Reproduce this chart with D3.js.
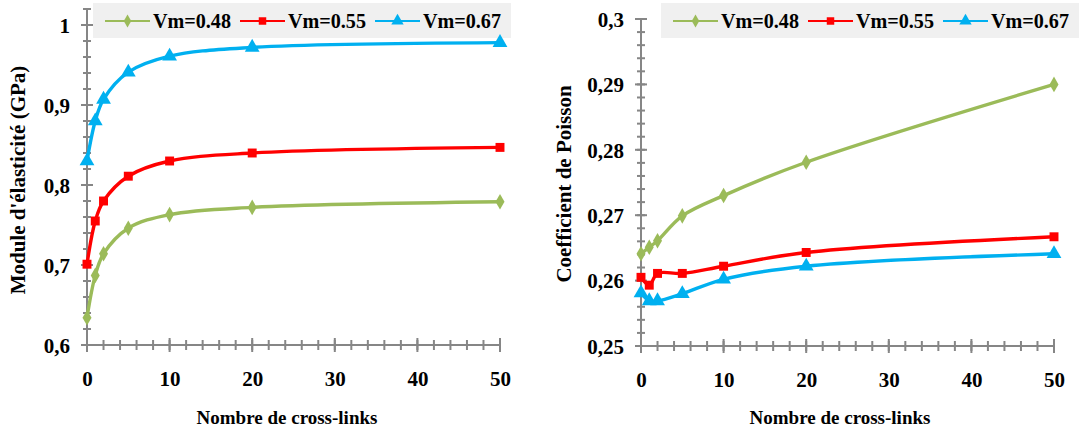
<!DOCTYPE html>
<html><head><meta charset="utf-8">
<script src="https://cdn.jsdelivr.net/npm/d3@7"></script>
<style>
html,body{margin:0;padding:0;background:#fff;}
svg{display:block;}
text{font-family:"Liberation Serif","Times New Roman",serif;font-weight:bold;fill:#000;}
</style></head>
<body>
<svg id="c" width="1079" height="430"></svg>
<script>
// ---- data ----
const crossLinks = [0, 1, 2, 5, 10, 20, 50];
const seriesNames = ["Vm=0.48", "Vm=0.55", "Vm=0.67"];
const modulusGreen = [0.634, 0.687, 0.714, 0.746, 0.763, 0.772, 0.779];
const modulusRed   = [0.701, 0.755, 0.780, 0.811, 0.830, 0.840, 0.847];
const modulusBlue  = [0.830, 0.880, 0.907, 0.941, 0.961, 0.972, 0.978];
const poissonGreen = [0.2641, 0.2651, 0.2661, 0.2699, 0.2730, 0.2781, 0.2900];
const poissonRed   = [0.2605, 0.2593, 0.2611, 0.2611, 0.2622, 0.2643, 0.2667];
const poissonBlue  = [0.2581, 0.2569, 0.2569, 0.2580, 0.2602, 0.2622, 0.2641];
const xTicks = [0, 10, 20, 30, 40, 50];
const modulusTicks = [0.6, 0.7, 0.8, 0.9, 1.0];
const poissonTicks = [0.25, 0.26, 0.27, 0.28, 0.29, 0.3];
const xTitle = "Nombre de cross-links";
const modulusTitle = "Module d'élasticité (GPa)";
const poissonTitle = "Coefficient de Poisson";

const colors = ["#9BBB59", "#FF0000", "#00B0F0"];
const markers = [d3.symbolDiamond, d3.symbolSquare, d3.symbolTriangle];
const markerSizes = [70, 80, 95];
const axisColor = "#868686";
const fmt = d3.formatLocale({decimal: ",", thousands: " ", grouping: [3], currency: ["", ""]}).format("~g");

const svg = d3.select("#c");

function panel(cfg) {
  const x = d3.scaleLinear().domain([0, 50]).range([cfg.x0, cfg.x1]);
  const y = d3.scaleLinear().domain(cfg.yDomain).range([cfg.yBottom, cfg.yTop]);
  const g = svg.append("g");

  // legend
  const lg = g.append("g");
  lg.append("rect").attr("x", cfg.legX).attr("y", 3).attr("width", cfg.legW).attr("height", 35).attr("fill", "#F0F0F0");
  seriesNames.forEach((name, i) => {
    const lx = cfg.legX + 12 + i * 135;
    lg.append("line").attr("x1", lx).attr("x2", lx + 45).attr("y1", 21).attr("y2", 21)
      .attr("stroke", colors[i]).attr("stroke-width", 2);
    lg.append("path").attr("d", d3.symbol(markers[i], markerSizes[i] * 0.7)())
      .attr("transform", `translate(${lx + 22.5},21)`).attr("fill", colors[i]);
    lg.append("text").attr("x", lx + 48).attr("y", 28).attr("font-size", 21)
      .attr("textLength", 78).attr("lengthAdjust", "spacingAndGlyphs").text(name);
  });

  // y axis minor/major ticks
  const yMinor = d3.range(cfg.yDomain[0], cfg.yMax + 1e-9, cfg.yMinorStep);
  g.selectAll(".ymin").data(yMinor).join("line")
    .attr("x1", cfg.x0 - 4).attr("x2", cfg.x0 + 4)
    .attr("y1", d => y(d)).attr("y2", d => y(d))
    .attr("stroke", axisColor).attr("stroke-width", 2);
  g.selectAll(".ymaj").data(cfg.yTicks).join("line")
    .attr("x1", cfg.x0 - 6).attr("x2", cfg.x0 + 6)
    .attr("y1", d => y(d)).attr("y2", d => y(d))
    .attr("stroke", axisColor).attr("stroke-width", 2);
  // x axis ticks
  const xMinor = d3.range(0, 50.001, 2);
  g.selectAll(".xmin").data(xMinor).join("line")
    .attr("x1", d => x(d)).attr("x2", d => x(d))
    .attr("y1", cfg.yBottom - 5).attr("y2", cfg.yBottom + 5)
    .attr("stroke", axisColor).attr("stroke-width", 2);
  g.selectAll(".xmaj").data(xTicks).join("line")
    .attr("x1", d => x(d)).attr("x2", d => x(d))
    .attr("y1", cfg.yBottom - 7).attr("y2", cfg.yBottom + 7)
    .attr("stroke", axisColor).attr("stroke-width", 2);
  // axis lines
  g.append("line").attr("x1", cfg.x0).attr("x2", cfg.x0).attr("y1", y(cfg.yMax)).attr("y2", cfg.yBottom + 6)
    .attr("stroke", axisColor).attr("stroke-width", 2);
  g.append("line").attr("x1", cfg.x0 - 6).attr("x2", cfg.x1).attr("y1", cfg.yBottom).attr("y2", cfg.yBottom)
    .attr("stroke", axisColor).attr("stroke-width", 2);

  // labels via d3 axes (no lines)
  const ya = g.append("g").attr("transform", `translate(${cfg.x0 - 17},0)`)
    .call(d3.axisLeft(y).tickValues(cfg.yTicks).tickFormat(fmt).tickSize(0).tickPadding(0));
  ya.select(".domain").remove();
  ya.selectAll("text").attr("font-size", 21).attr("font-family", null).attr("fill", "#000").attr("dy", "0.35em");
  const xa = g.append("g").attr("transform", `translate(0,${cfg.yBottom + 26})`)
    .call(d3.axisBottom(x).tickValues(xTicks).tickFormat(d3.format("d")).tickSize(0).tickPadding(0));
  xa.select(".domain").remove();
  xa.selectAll("text").attr("font-size", 21).attr("font-family", null).attr("fill", "#000").attr("dy", "0.7em");

  // titles
  g.append("text").attr("x", cfg.xTitleX).attr("y", 424).attr("text-anchor", "middle")
    .attr("font-size", 19).text(xTitle);
  g.append("text").attr("transform", `translate(${cfg.yTitleX},${cfg.yTitleY}) rotate(-90)`)
    .attr("text-anchor", "middle").attr("font-size", 21).text(cfg.yTitle);

  // series
  const line = d3.line().x((d, i) => x(crossLinks[i])).y(d => y(d)).curve(d3.curveCatmullRom.alpha(0.5));
  cfg.series.forEach((vals, i) => {
    g.append("path").attr("d", line(vals)).attr("fill", "none")
      .attr("stroke", colors[i]).attr("stroke-width", 3.4);
  });
  cfg.series.forEach((vals, i) => {
    g.selectAll(null).data(vals).join("path")
      .attr("d", d3.symbol(markers[i], markerSizes[i])())
      .attr("transform", (d, j) => `translate(${x(crossLinks[j])},${y(d)})`)
      .attr("fill", colors[i]);
  });
}

panel({
  x0: 87, x1: 500, yTop: 25, yBottom: 345, yDomain: [0.6, 1.0], yMax: 1.02, yMinorStep: 0.02,
  yTicks: modulusTicks, series: [modulusGreen, modulusRed, modulusBlue],
  legX: 93, legW: 418, xTitleX: 287, yTitleX: 25, yTitleY: 180, yTitle: modulusTitle
});
panel({
  x0: 641, x1: 1054, yTop: 19, yBottom: 346, yDomain: [0.25, 0.3], yMax: 0.3, yMinorStep: 0.002,
  yTicks: poissonTicks, series: [poissonGreen, poissonRed, poissonBlue],
  legX: 661, legW: 430, xTitleX: 840, yTitleX: 571, yTitleY: 184, yTitle: poissonTitle
});
</script>
</body></html>
